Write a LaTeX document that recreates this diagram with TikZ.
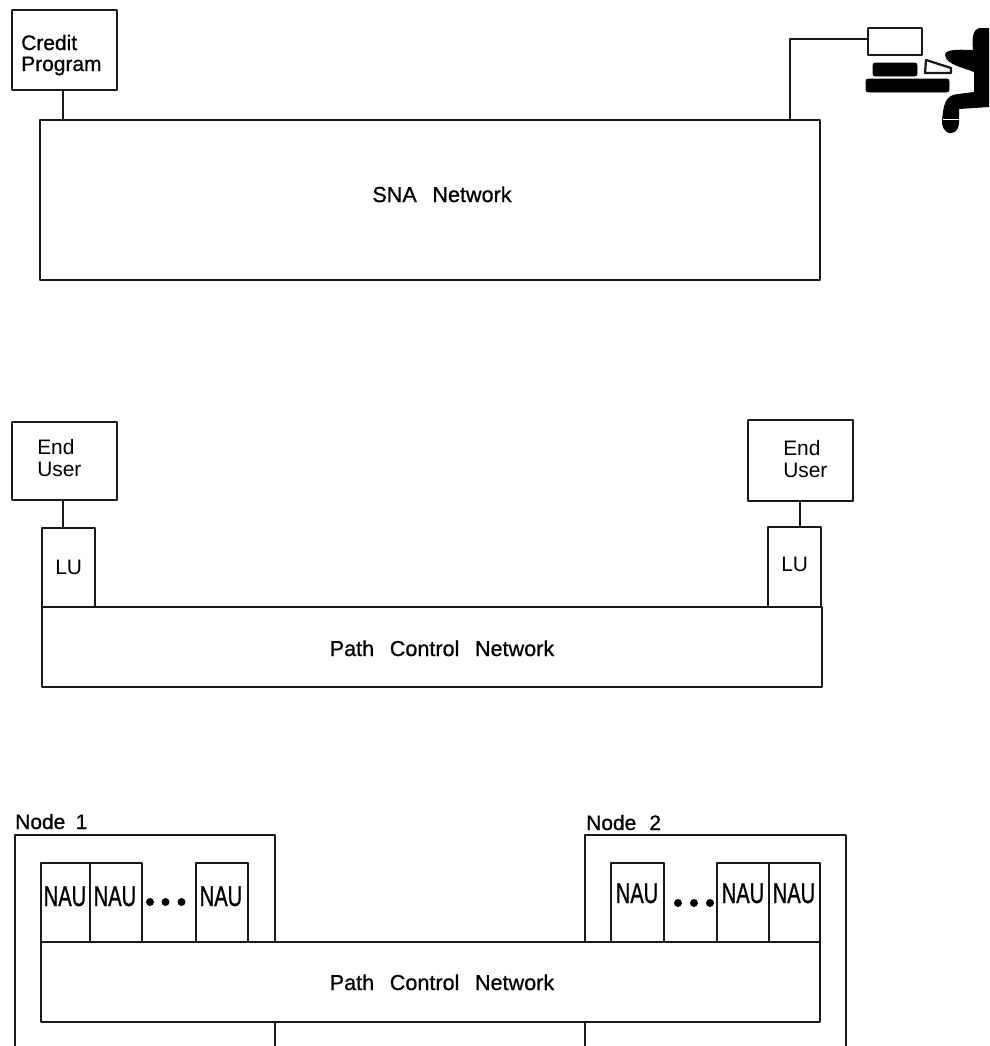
\documentclass[tikz,border=0pt]{standalone}
\usepackage{fontspec}
\usepackage{graphicx}
\setmainfont[WordSpace=2.6]{Liberation Sans}
\newfontfamily\heavyfont[FakeBold=0.8,WordSpace=2.6]{Liberation Sans}
\newfontfamily\naufont[FakeBold=1.2]{Liberation Sans}
\newcommand{\nautext}{\scalebox{0.70}[1]{\fontsize{21.5pt}{21.5pt}\naufont NAU}}
\tikzset{
  ink/.style={line width=1.7pt,draw=black!90,line join=round,line cap=round},
  pbox/.style={ink,rectangle,inner sep=0pt},
  lbl/.style={inner sep=0pt,anchor=base west,font=\fontsize{15.7pt}{15.7pt}\selectfont},
  heavy/.style={inner sep=0pt,anchor=base,font=\fontsize{16.2pt}{16.2pt}\heavyfont},
  heavyl/.style={inner sep=0pt,anchor=base west,font=\fontsize{15.7pt}{15.7pt}\heavyfont},
  nautxt/.style={inner sep=0pt,anchor=base},
  solidbit/.style={fill=black,draw=black,rounded corners=1.5pt},
  wire/.style={ink}
}
\newcommand{\pxbox}[5]{% name, x1, y1, x2, y2
  \pgfmathsetmacro{\pw}{(#4-#2)*0.75}\pgfmathsetmacro{\ph}{(#5-#3)*0.75}
  \node[pbox,minimum width=\pw pt,minimum height=\ph pt] (#1) at ({(#2+#4)/2},{(#3+#5)/2}) {};}
\begin{document}
\begin{tikzpicture}[x=0.75pt,y=-0.75pt]
\useasboundingbox (0,0) rectangle (989,1046);
% top panel
\pxbox{credit}{12}{10}{117}{90}
\node[heavyl] (creditt) at (21,50) {Credit};
\node[heavyl] (creditu) at (21,71) {Program};
\pxbox{sna}{40}{120}{820}{280}
\node[heavy] (snat) at (442,202) {SNA Network};
\pxbox{monitor}{868}{28}{922}{55}
\coordinate (c1) at (63,100);
\draw[wire] (c1 |- credit.south) -- (c1 |- sna.north);
\coordinate (c2) at (790,39);
\draw[wire] (c2 |- sna.north) -- (c2) -- (c2 -| monitor.west);
\fill[solidbit] (873,63) rectangle (917,76);
\fill[solidbit] (866,79) rectangle (949,92);
\draw[ink,fill=white] (926,60) -- (951,68) -- (951,73) -- (925,73) -- cycle;
\fill[black] (989,28) -- (980,28) .. controls (972,29) and (972,40) .. (973,50)
  .. controls (965,50) and (945,48) .. (945,55) .. controls (946,65) and (965,68) .. (974,72)
  -- (974,92) -- (958,94) .. controls (945,95) and (943,105) .. (942,123)
  .. controls (943,132) and (950,134) .. (951,133) .. controls (956,133) and (959,128) .. (959,123)
  -- (959,109) -- (989,107) -- cycle;
\draw[white,line width=0.6pt] (943,119.5) -- (959,119.5);
% middle panel
\pxbox{eu1}{12}{422}{117}{500}
\node[lbl] (eu1a) at (37,454) {End};
\node[lbl] (eu1b) at (37,476) {User};
\pxbox{lu1}{42}{528}{95}{607}
\node[lbl] (lu1t) at (55,574) {LU};
\pxbox{eu2}{748}{420}{853}{501}
\node[lbl] (eu2a) at (783,455) {End};
\node[lbl] (eu2b) at (783,477) {User};
\pxbox{lu2}{768}{527}{821}{607}
\node[lbl] (lu2t) at (781,571) {LU};
\pxbox{pcn1}{42}{607}{822}{687}
\node[heavy] (pcn1t) at (442,656) {Path Control Network};
\coordinate (c3) at (63,510);
\coordinate (c4) at (800,510);
\draw[wire] (c3 |- eu1.south) -- (c3 |- lu1.north);
\draw[wire] (c4 |- eu2.south) -- (c4 |- lu2.north);
% bottom panel
\coordinate (n1a) at (15,1046);
\coordinate (n1b) at (275,1046);
\coordinate (n2a) at (585,1046);
\coordinate (n2b) at (846,1046);
\coordinate (t1) at (15,835);
\coordinate (t2) at (585,835);
\pxbox{pcn2}{41}{942}{820}{1022}
\node[heavy] (pcn2l) at (442,990) {Path Control Network};
\draw[wire] (n1a) -- (t1) -- (t1 -| n1b) -- (n1b |- pcn2.north);
\draw[wire] (n2a |- pcn2.north) -- (t2) -- (t2 -| n2b) -- (n2b);
\draw[wire] (n1b |- pcn2.south) -- (n1b);
\draw[wire] (n2a |- pcn2.south) -- (n2a);
\node[heavyl] (node1) at (15,829) {Node\kern-3.5pt{} 1};
\node[heavyl] (node2) at (586,830) {Node\kern-1.5pt{} 2};
\pxbox{a1}{41}{863}{90}{942}
\pxbox{a2}{90}{863}{142}{942}
\pxbox{a3}{196}{863}{248}{942}
\pxbox{b1}{611}{863}{664}{942}
\pxbox{b2}{717}{863}{769}{942}
\pxbox{b3}{769}{863}{820}{942}
\node[nautxt] (a1t) at (65,906) {\nautext};
\node[nautxt] (a2t) at (115,906) {\nautext};
\node[nautxt] (a3t) at (221,906) {\nautext};
\node[nautxt] (b1t) at (637,903) {\nautext};
\node[nautxt] (b2t) at (743,903) {\nautext};
\node[nautxt] (b3t) at (794,903) {\nautext};
\foreach \x in {150,165.5,181.5}{\fill[black] (\x,902) circle[radius=3pt];}
\foreach \x in {678,694,710}{\fill[black] (\x,903) circle[radius=3pt];}
\end{tikzpicture}
\end{document}
